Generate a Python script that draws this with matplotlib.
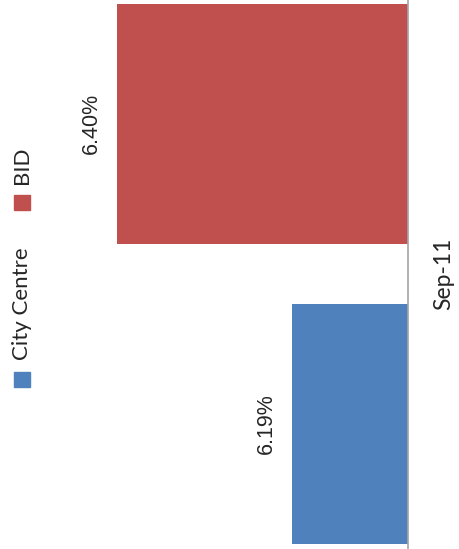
import matplotlib.pyplot as plt
from matplotlib.patches import Rectangle

# Vacancy rate by area, Sep-11
category = 'Sep-11'
series = ['City Centre', 'BID']
values = [6.19, 6.40]
colors = ['#4f81bd', '#c0504d']

fig = plt.figure(figsize=(4.59, 5.49), dpi=100)
ax = fig.add_axes([0, 0, 408 / 459, 1])

# chart drawn turned on its side: bars grow to the left from the axis
ypos = [0, 1]
ax.barh(ypos, values, height=0.8, left=0, color=colors)
ax.set_xlim(6.541, 6.05)
ax.set_ylim(-0.417, 1.413)

for y, v in zip(ypos, values):
    ax.annotate(f'{v:.2f}%', (v, y), xytext=(-11, 0), textcoords='offset points',
                rotation=90, ha='right', va='center', fontsize=15.5,
                family='Liberation Sans', color='#262626')

for s in ['top', 'left', 'bottom']:
    ax.spines[s].set_visible(False)
ax.spines['right'].set_color('#a6a6a6')
ax.spines['right'].set_linewidth(1.2)
ax.set_xticks([])
ax.set_yticks([])

# category label beside the axis
fig.text(444 / 459, 1 - 274 / 549, category, rotation=90, ha='center', va='center',
         fontsize=16.5, family='Lato', color='#262626')

# legend, rotated with the chart
for name, col, ybox in zip(series, colors, [379.5, 202.5]):
    fig.patches.append(Rectangle((14 / 459, 1 - (ybox + 7.5) / 549), 16 / 459, 15 / 549,
                                 transform=fig.transFigure, color=col))
    fig.text(22 / 459, 1 - (ybox - 19) / 549, name, rotation=90, ha='center', va='bottom',
             fontsize=16, family='Lato', color='#262626')

plt.savefig('out.png', dpi=100)
